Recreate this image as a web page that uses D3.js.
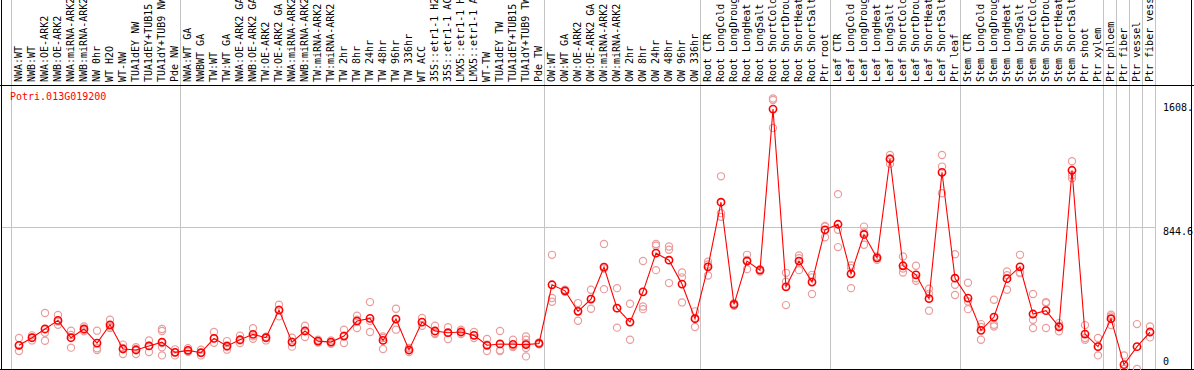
<!DOCTYPE html>
<html>
<head>
<meta charset="utf-8">
<script src="https://cdn.jsdelivr.net/npm/d3@7"></script>
<style>
  body { margin: 0; background: #fff; }
  text { font-family: "DejaVu Sans Mono", monospace; font-size: 10px; }
</style>
</head>
<body>
<div id="chart"></div>
<script>
var GENE = "Potri.013G019200";

var aSamples = [
  "NWA:WT", "NWB:WT", "NWA:OE-ARK2", "NWB:OE-ARK2", "NWA:miRNA-ARK2", "NWB:miRNA-ARK2",
  "NW 0hr", "WT H2O", "WT-NW", "TUA1dEY NW", "TUA1dEY+TUB15 NW", "TUA1dY+TUB9 NW", "Pde NW",
  "NWA:WT GA", "NWBWT GA", "TW:WT", "TW:WT GA", "NWA:OE-ARK2 GA", "NWB:OE-ARK2 GA",
  "TW:OE-ARK2", "TW:OE-ARK2 GA", "NWA:miRNA-ARK2", "NWB:miRNA-ARK2", "TW:miRNA-ARK2",
  "TW:miRNA-ARK2", "TW 2hr", "TW 8hr", "TW 24hr", "TW 48hr", "TW 96hr", "TW 336hr",
  "WT ACC", "35S::etr1-1 H2O", "35S::etr1-1 ACC", "LMX5::etr1-1 H2O", "LMX5::etr1-1 ACC",
  "WT-TW", "TUA1dEY TW", "TUA1dEY+TUB15 TW", "TUA1dY+TUB9 TW", "Pde TW",
  "OW:WT", "OW:WT GA", "OW:OE-ARK2", "OW:OE-ARK2 GA", "OW:miRNA-ARK2", "OW:miRNA-ARK2",
  "OW 2hr", "OW 8hr", "OW 24hr", "OW 48hr", "OW 96hr", "OW 336hr",
  "Root CTR", "Root LongCold", "Root LongDrought", "Root LongHeat", "Root LongSalt",
  "Root ShortCold", "Root ShortDrought", "Root ShortHeat", "Root ShortSalt", "Ptr root",
  "Leaf CTR", "Leaf LongCold", "Leaf LongDrought", "Leaf LongHeat", "Leaf LongSalt",
  "Leaf ShortCold", "Leaf ShortDrought", "Leaf ShortHeat", "Leaf ShortSalt", "Ptr leaf",
  "Stem CTR", "Stem LongCold", "Stem LongDrought", "Stem LongHeat", "Stem LongSalt",
  "Stem ShortCold", "Stem ShortDrought", "Stem ShortHeat", "Stem ShortSalt", "Ptr shoot",
  "Ptr xylem", "Ptr phloem", "Ptr fiber", "Ptr vessel", "Ptr fiber vessel"
];

// index of the first sample of each group (grey separators)
var aGroupStarts = [0, 13, 41, 53, 63, 73, 84, 85, 86, 87];

var aMeans = [
  141, 186, 238, 289, 186, 238, 154, 263, 119, 113, 137, 160, 99,
  111, 97, 182, 137, 174, 206, 186, 350, 160, 226, 166, 160, 196, 285, 301, 170, 297,
  113, 279, 226, 216, 220, 200, 141, 149, 147, 145, 152,
  501, 465, 343, 416, 606, 362, 279, 459, 689, 647, 505, 299,
  608, 992, 384, 642, 588, 1546, 489, 642, 517, 828,
  861, 566, 800, 661, 1249, 614, 560, 418, 1170, 540,
  422, 230, 309, 537, 608, 327, 347, 251, 1182, 208, 133,
  299, 26, 133, 220
];

var aReps = [
  [184, 141, 107], [200, 186, 170], [333, 216, 168], [321, 283, 263], [228, 202, 127],
  [253, 234, 224], [228, 123, 113], [293, 253, 244], [145, 123, 89], [129, 119, 89],
  [170, 139, 101], [238, 226, 154, 129, 81], [117, 99, 81],
  [123, 111, 103], [115, 95, 81], [220, 182, 156], [166, 131, 115], [198, 170, 154],
  [242, 194, 180], [192, 186, 170], [382, 352, 313], [186, 162, 133], [257, 226, 190],
  [174, 166, 158], [170, 160, 150], [234, 198, 154], [317, 293, 244], [398, 285, 220],
  [194, 184, 119], [358, 297, 234], [125, 113, 101], [303, 279, 257], [257, 214, 208],
  [249, 214, 178], [234, 218, 208], [220, 200, 184], [178, 145, 107], [226, 111, 107],
  [174, 135, 131], [194, 174, 154, 125, 75], [158, 152, 147],
  [679, 422, 400], [471, 465, 459], [392, 343, 287], [471, 416, 358], [744, 598, 475],
  [481, 362, 246], [388, 279, 174], [642, 372, 356], [744, 733, 588], [729, 709, 511],
  [574, 545, 396], [343, 303, 250],
  [638, 622, 556], [1146, 927, 905], [392, 384, 376], [679, 649, 594], [594, 588, 580],
  [1608.8, 1600, 1434], [572, 519, 380], [675, 659, 588], [560, 545, 446], [851, 847, 784],
  [1040, 828, 725], [616, 600, 481], [847, 812, 739], [669, 659, 649], [1273, 1253, 1220],
  [669, 598, 574], [614, 540, 525], [477, 447, 347], [1273, 1204, 1045], [683, 501, 440],
  [513, 402, 356], [267, 250, 174], [412, 263, 253], [580, 558, 471], [679, 574, 570],
  [446, 293, 244], [398, 392, 244], [273, 257, 224], [1236, 1152, 1135], [261, 184, 174],
  [184, 133, 81],
  [323, 313, 261], [81, 0, 0], [267, 0], [253, 218, 188]
];

var aYTicks = [0, 844.6, 1608.8];
var Y_MAX = 1689.2;

var W = 1194, H = 370;
var PLOT = {left: 11, right: 1155, top: 85, bottom: 369};

var oSvg = d3.select("#chart").append("svg")
  .attr("width", W).attr("height", H);

var x = d3.scaleBand()
  .domain(d3.range(aSamples.length))
  .range([PLOT.left, PLOT.right]);

var y = d3.scaleLinear()
  .domain([0, Y_MAX])
  .range([PLOT.bottom, PLOT.top]);

function px(i) { return x(i) + 8; }

// grey group separators, full height
var aSepX = aGroupStarts.map(function(i) { return x(i); }).concat([PLOT.right]);
oSvg.selectAll(".sep")
  .data(aSepX)
  .enter().append("line")
  .attr("class", "sep")
  .attr("x1", function(d) { return d + 0.5; })
  .attr("x2", function(d) { return d + 0.5; })
  .attr("y1", 0).attr("y2", H)
  .attr("stroke", "#c4c4c4");

// midline
oSvg.append("line")
  .attr("x1", 1).attr("x2", PLOT.right)
  .attr("y1", Math.round(y(aYTicks[1])) + 0.5).attr("y2", Math.round(y(aYTicks[1])) + 0.5)
  .attr("stroke", "#c4c4c4");

// frame
oSvg.append("line").attr("x1", 0).attr("x2", W).attr("y1", PLOT.top + 0.5).attr("y2", PLOT.top + 0.5).attr("stroke", "#000");
oSvg.append("line").attr("x1", 0).attr("x2", W).attr("y1", PLOT.bottom + 0.5).attr("y2", PLOT.bottom + 0.5).attr("stroke", "#000");
oSvg.append("line").attr("x1", 1.5).attr("x2", 1.5).attr("y1", 0).attr("y2", H).attr("stroke", "#000");
oSvg.append("line").attr("x1", W - 2.5).attr("x2", W - 2.5).attr("y1", 0).attr("y2", H).attr("stroke", "#000");

// sample labels, reading upward
oSvg.selectAll(".lbl")
  .data(aSamples)
  .enter().append("text")
  .attr("class", "lbl")
  .attr("transform", function(d, i) {
    return "translate(" + (x(i) + 11) + "," + (PLOT.top - 3) + ") rotate(-90)";
  })
  .attr("fill", "#000")
  .text(function(d) { return d; });

// y labels (kept inside the plot band)
oSvg.selectAll(".ytick")
  .data(aYTicks)
  .enter().append("text")
  .attr("class", "ytick")
  .attr("x", 1163)
  .attr("y", function(d) {
    return Math.max(PLOT.top + 26, Math.min(y(d) + 8, PLOT.bottom - 4));
  })
  .attr("fill", "#000")
  .text(function(d) { return String(d).slice(0, 5); });

// gene name
oSvg.append("text")
  .attr("x", 10).attr("y", 100)
  .attr("fill", "#ff0000")
  .text(GENE);

// replicates
var aRepPts = [];
aReps.forEach(function(a, i) {
  a.forEach(function(v) { aRepPts.push({i: i, v: v}); });
});
oSvg.selectAll(".rep")
  .data(aRepPts)
  .enter().append("circle")
  .attr("class", "rep")
  .attr("cx", function(d) { return px(d.i); })
  .attr("cy", function(d) { return y(d.v); })
  .attr("r", 3.6)
  .attr("fill", "none")
  .attr("stroke", "#eb9c9c")
  .attr("stroke-width", 1.2);

// mean line
var line = d3.line()
  .x(function(d, i) { return px(i); })
  .y(function(d) { return y(d); });

oSvg.append("path")
  .datum(aMeans)
  .attr("d", line)
  .attr("fill", "none")
  .attr("stroke", "#ff0000")
  .attr("stroke-width", 1.1);

oSvg.selectAll(".mean")
  .data(aMeans)
  .enter().append("circle")
  .attr("class", "mean")
  .attr("cx", function(d, i) { return px(i); })
  .attr("cy", function(d) { return y(d); })
  .attr("r", 3.6)
  .attr("fill", "none")
  .attr("stroke", "#ff0000")
  .attr("stroke-width", 1.6);
</script>
</body>
</html>
